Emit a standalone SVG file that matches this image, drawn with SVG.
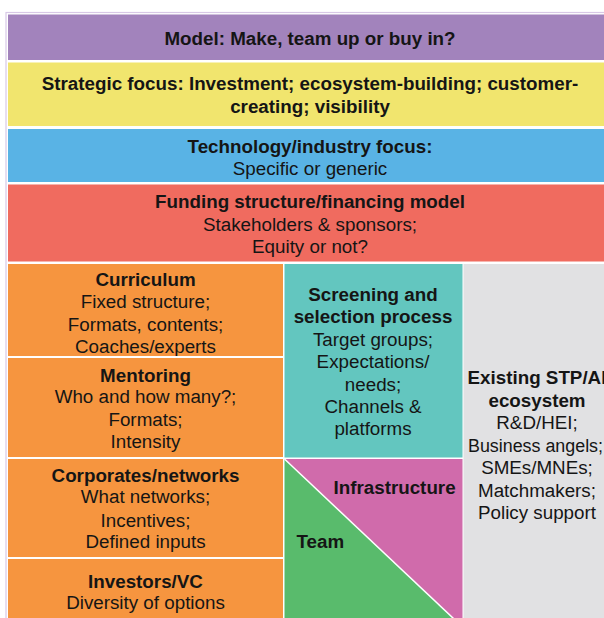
<svg xmlns="http://www.w3.org/2000/svg" width="604" height="618" viewBox="0 0 604 618">
<defs>
<style>
.t{font-family:"Liberation Sans",Arial,sans-serif;font-size:18.8px;fill:#151515;text-anchor:middle}
.b{font-weight:bold}
.s{text-anchor:start}
</style>
<clipPath id="cCur"><rect x="8" y="264" width="275" height="92"/></clipPath>
</defs>
<rect x="0" y="0" width="604" height="618" fill="#ffffff"/>
<rect x="6" y="12.5" width="700" height="700" fill="none" stroke="#d8c8e6" stroke-width="1.2"/>

<g id="model">
<rect x="8" y="14.5" width="700" height="45.5" fill="#a283bc"/>
<text class="t b" x="310" y="45">Model: Make, team up or buy in?</text>
</g>
<g id="strategic">
<rect x="8" y="62.5" width="700" height="63.5" fill="#f1e56e"/>
<text class="t b" x="310" y="90">Strategic focus: Investment; ecosystem-building; customer-</text>
<text class="t b" x="310" y="112.8">creating; visibility</text>
</g>
<g id="technology">
<rect x="8" y="129" width="700" height="53" fill="#59b3e5"/>
<text class="t b" x="310" y="152.7">Technology/industry focus:</text>
<text class="t" x="310" y="175">Specific or generic</text>
</g>
<g id="funding">
<rect x="8" y="184.5" width="700" height="77" fill="#f06b5f"/>
<text class="t b" x="310" y="208.3">Funding structure/financing model</text>
<text class="t" x="310" y="231.3">Stakeholders &amp; sponsors;</text>
<text class="t" x="310" y="253.3">Equity or not?</text>
</g>

<g id="curriculum">
<rect x="8" y="264" width="275" height="92" fill="#f6953f"/>
<g clip-path="url(#cCur)">
<text class="t b" x="145.5" y="285.7">Curriculum</text>
<text class="t" x="145.5" y="308.3">Fixed structure;</text>
<text class="t" x="145.5" y="331">Formats, contents;</text>
<text class="t" x="145.5" y="352.5">Coaches/experts</text>
</g>
</g>
<g id="mentoring">
<rect x="8" y="358" width="275" height="99" fill="#f6953f"/>
<text class="t b" x="145.5" y="381.7">Mentoring</text>
<text class="t" x="145.5" y="403.3">Who and how many?;</text>
<text class="t" x="145.5" y="425.7">Formats;</text>
<text class="t" x="145.5" y="448.3">Intensity</text>
</g>
<g id="corporates">
<rect x="8" y="459" width="275" height="98" fill="#f6953f"/>
<text class="t b" x="145.5" y="481.7">Corporates/networks</text>
<text class="t" x="145.5" y="503.3">What networks;</text>
<text class="t" x="145.5" y="526.7">Incentives;</text>
<text class="t" x="145.5" y="548.3">Defined inputs</text>
</g>
<g id="investors">
<rect x="8" y="559" width="275" height="80" fill="#f6953f"/>
<text class="t b" x="145.5" y="587.7">Investors/VC</text>
<text class="t" x="145.5" y="609.3">Diversity of options</text>
</g>

<g id="screening">
<rect x="284.5" y="264" width="178" height="193.5" fill="#63c6bf"/>
<text class="t b" x="373" y="301">Screening and</text>
<text class="t b" x="373" y="323.3">selection process</text>
<text class="t" x="373" y="345.7">Target groups;</text>
<text class="t" x="373" y="368.3">Expectations/</text>
<text class="t" x="373" y="390.7">needs;</text>
<text class="t" x="373" y="413.3">Channels &amp;</text>
<text class="t" x="373" y="435">platforms</text>
</g>

<g id="ecosystem">
<rect x="463.5" y="264" width="300" height="400" fill="#e1e1e3"/>
<text class="t b" x="537" y="384.3">Existing STP/AI</text>
<text class="t b" x="537" y="406.7">ecosystem</text>
<text class="t" x="537" y="429.3">R&amp;D/HEI;</text>
<text class="t" x="535.5" y="451.7" textLength="135" lengthAdjust="spacingAndGlyphs">Business angels;</text>
<text class="t" x="537" y="474">SMEs/MNEs;</text>
<text class="t" x="537" y="496.7">Matchmakers;</text>
<text class="t" x="537" y="519">Policy support</text>
</g>

<g id="infrastructure">
<polygon points="284.5,459 462.5,459 462.5,627" fill="#d06bab"/>
<text class="t b s" x="333.5" y="494.3">Infrastructure</text>
</g>
<g id="team">
<polygon points="284.5,459 462.5,627 284.5,627" fill="#59bb6c"/>
<text class="t b s" x="296.5" y="548.3">Team</text>
</g>

<g id="connectors">
<line x1="284.5" y1="459" x2="462.5" y2="627" stroke="#ffffff" stroke-width="1.5"/>
</g>
</svg>
